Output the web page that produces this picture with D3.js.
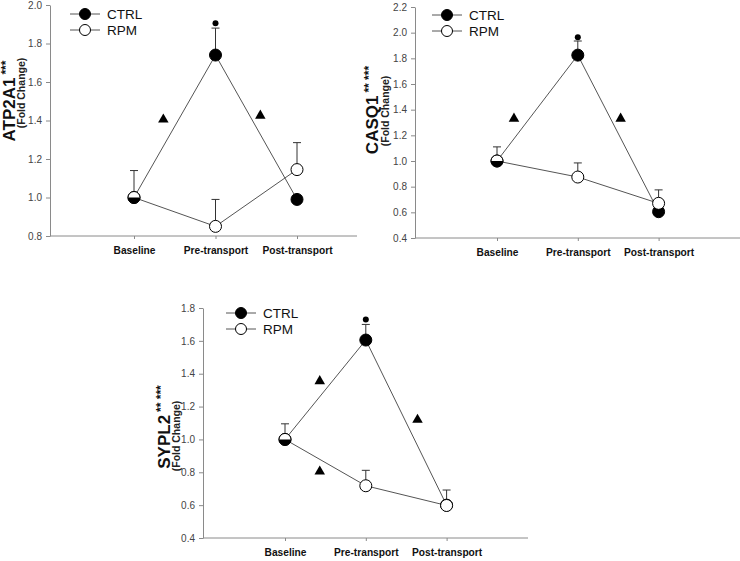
<!DOCTYPE html>
<html>
<head>
<meta charset="utf-8">
<script src="https://cdn.jsdelivr.net/npm/d3@7"></script>
<style>
  body { margin: 0; background: #fff; }
  svg { display: block; font-family: "Liberation Sans", Arial, sans-serif; }
</style>
</head>
<body>
<svg id="chart" width="740" height="561"></svg>
<script>
// ---------- DATA ----------
const categories = ["Baseline", "Pre-transport", "Post-transport"];
const seriesNames = ["CTRL", "RPM"];

const atp2a1Ctrl = [1.0, 1.74, 0.99];
const atp2a1CtrlUpper = [null, 1.88, null];
const atp2a1Rpm = [1.0, 0.85, 1.145];
const atp2a1RpmUpper = [1.14, 0.99, 1.285];
const atp2a1Ticks = [0.8, 1.0, 1.2, 1.4, 1.6, 1.8, 2.0];
const atp2a1Dots = [{ cat: 1, value: 1.905 }];
const atp2a1Triangles = [{ cat: 0.36, value: 1.405 }, { cat: 1.55, value: 1.425 }];

const casq1Ctrl = [1.0, 1.825, 0.605];
const casq1CtrlUpper = [null, 1.935, null];
const casq1Rpm = [1.0, 0.875, 0.67];
const casq1RpmUpper = [1.11, 0.985, 0.775];
const casq1Ticks = [0.4, 0.6, 0.8, 1.0, 1.2, 1.4, 1.6, 1.8, 2.0, 2.2];
const casq1Dots = [{ cat: 1, value: 1.965 }];
const casq1Triangles = [{ cat: 0.21, value: 1.33 }, { cat: 1.53, value: 1.33 }];

const sypl2Ctrl = [1.0, 1.605, 0.6];
const sypl2CtrlUpper = [null, 1.70, null];
const sypl2Rpm = [1.0, 0.718, 0.598];
const sypl2RpmUpper = [1.095, 0.812, 0.692];
const sypl2Ticks = [0.4, 0.6, 0.8, 1.0, 1.2, 1.4, 1.6, 1.8];
const sypl2Dots = [{ cat: 1, value: 1.73 }];
const sypl2Triangles = [{ cat: 0.43, value: 1.355 }, { cat: 0.43, value: 0.805 }, { cat: 1.64, value: 1.12 }];

// ---------- LAYOUT ----------
const panels = [
  { gene: "ATP2A1", stars: "***", ctrl: atp2a1Ctrl, ctrlUp: atp2a1CtrlUpper, rpm: atp2a1Rpm, rpmUp: atp2a1RpmUpper,
    ticks: atp2a1Ticks, dots: atp2a1Dots, tris: atp2a1Triangles,
    left: 50, right: 357, top: 5, bottom: 236, catStart: 134, catStep: 81.5,
    titleX: 15, titleY: 101, subX: 25, subY: 93, legX: 85, legY: 14 },
  { gene: "CASQ1", stars: "** ***", ctrl: casq1Ctrl, ctrlUp: casq1CtrlUpper, rpm: casq1Rpm, rpmUp: casq1RpmUpper,
    ticks: casq1Ticks, dots: casq1Dots, tris: casq1Triangles,
    left: 415, right: 740, top: 7, bottom: 238, catStart: 497, catStep: 80.8,
    titleX: 378, titleY: 110, subX: 389, subY: 111, legX: 447, legY: 15 },
  { gene: "SYPL2", stars: "** ***", ctrl: sypl2Ctrl, ctrlUp: sypl2CtrlUpper, rpm: sypl2Rpm, rpmUp: sypl2RpmUpper,
    ticks: sypl2Ticks, dots: sypl2Dots, tris: sypl2Triangles,
    left: 203, right: 528, top: 308, bottom: 538, catStart: 285, catStep: 80.8,
    titleX: 170, titleY: 427, subX: 180, subY: 436, legX: 241, legY: 313 }
];

const svg = d3.select("#chart");
const axisColor = "#8a8a8a";
const lineColor = "#555";
const R = 6;

panels.forEach(p => {
  const g = svg.append("g");
  const y = d3.scaleLinear().domain(d3.extent(p.ticks)).range([p.bottom, p.top]);
  const x = d3.scaleLinear().domain([0, 2]).range([p.catStart, p.catStart + 2 * p.catStep]);

  // y axis
  const ya = g.append("g").attr("transform", `translate(${p.left},0)`)
    .call(d3.axisLeft(y).tickValues(p.ticks).tickFormat(d3.format(".1f")).tickSize(4).tickSizeOuter(0).tickPadding(4));
  ya.select(".domain").attr("stroke", axisColor);
  ya.selectAll(".tick line").attr("stroke", axisColor);
  ya.selectAll(".tick text").attr("fill", "#444").attr("font-size", 10).attr("font-family", "Liberation Sans, Arial, sans-serif");

  // x axis
  const xa = g.append("g").attr("transform", `translate(0,${p.bottom})`)
    .call(d3.axisBottom(x).tickValues([0, 1, 2]).tickFormat(i => categories[i]).tickSize(3).tickPadding(8));
  xa.select(".domain").remove();
  xa.selectAll(".tick line").attr("stroke", axisColor);
  xa.selectAll(".tick text").attr("fill", "#111").attr("font-size", 10.2).attr("font-weight", "bold")
    .attr("font-family", "Liberation Sans, Arial, sans-serif");
  g.append("line").attr("x1", p.left).attr("x2", p.right).attr("y1", p.bottom).attr("y2", p.bottom)
    .attr("stroke", axisColor);

  // y title
  const t = g.append("text").attr("transform", `translate(${p.titleX},${p.titleY}) rotate(-90)`)
    .attr("text-anchor", "middle").attr("font-weight", "bold").attr("font-size", 17).attr("fill", "#111");
  t.append("tspan").text(p.gene);
  t.append("tspan").attr("font-size", 12).attr("dy", -5).attr("dx", 3).text(p.stars);
  g.append("text").attr("transform", `translate(${p.subX},${p.subY}) rotate(-90)`)
    .attr("text-anchor", "middle").attr("font-weight", "bold").attr("font-size", 10.5).attr("fill", "#222")
    .text("(Fold Change)");

  // lines
  const line = d3.line().x((d, i) => x(i)).y(d => y(d));
  g.append("path").datum(p.ctrl).attr("d", line).attr("fill", "none").attr("stroke", lineColor).attr("stroke-width", 1);
  g.append("path").datum(p.rpm).attr("d", line).attr("fill", "none").attr("stroke", lineColor).attr("stroke-width", 1);

  // error bars (upper only)
  const drawErr = (vals, ups) => {
    vals.forEach((v, i) => {
      if (ups[i] == null) return;
      g.append("line").attr("x1", x(i)).attr("x2", x(i)).attr("y1", y(v)).attr("y2", y(ups[i]))
        .attr("stroke", "#333").attr("stroke-width", 1);
      g.append("line").attr("x1", x(i) - 4).attr("x2", x(i) + 4).attr("y1", y(ups[i])).attr("y2", y(ups[i]))
        .attr("stroke", "#333").attr("stroke-width", 1);
    });
  };
  drawErr(p.ctrl, p.ctrlUp);
  drawErr(p.rpm, p.rpmUp);

  // CTRL markers
  p.ctrl.forEach((v, i) => {
    g.append("circle").attr("cx", x(i)).attr("cy", y(v)).attr("r", R).attr("fill", "#000").attr("stroke", "#000");
  });
  // RPM markers (half when coinciding with CTRL)
  const halfArc = d3.arc().innerRadius(0).outerRadius(R).startAngle(-Math.PI / 2).endAngle(Math.PI / 2);
  p.rpm.forEach((v, i) => {
    if (v === p.ctrl[i]) {
      g.append("path").attr("d", halfArc()).attr("transform", `translate(${x(i)},${y(v)})`)
        .attr("fill", "#fff").attr("stroke", "none");
      g.append("circle").attr("cx", x(i)).attr("cy", y(v)).attr("r", R).attr("fill", "none").attr("stroke", "#000");
    } else {
      g.append("circle").attr("cx", x(i)).attr("cy", y(v)).attr("r", R).attr("fill", "#fff").attr("stroke", "#000");
    }
  });

  // significance markers
  p.dots.forEach(d => {
    g.append("circle").attr("cx", x(d.cat)).attr("cy", y(d.value)).attr("r", 3).attr("fill", "#000");
  });
  p.tris.forEach(d => {
    g.append("path").attr("d", d3.symbol(d3.symbolTriangle, 48)())
      .attr("transform", `translate(${x(d.cat)},${y(d.value)})`).attr("fill", "#000");
  });

  // legend
  seriesNames.forEach((name, k) => {
    const ly = p.legY + k * 16;
    g.append("line").attr("x1", p.legX - 15).attr("x2", p.legX + 15).attr("y1", ly).attr("y2", ly)
      .attr("stroke", lineColor);
    g.append("circle").attr("cx", p.legX).attr("cy", ly).attr("r", 5.5)
      .attr("fill", k === 0 ? "#000" : "#fff").attr("stroke", "#000");
    g.append("text").attr("x", p.legX + 22).attr("y", ly).attr("dy", "0.36em")
      .attr("font-size", 13.5).attr("fill", "#111").text(name);
  });
});
</script>
</body>
</html>
